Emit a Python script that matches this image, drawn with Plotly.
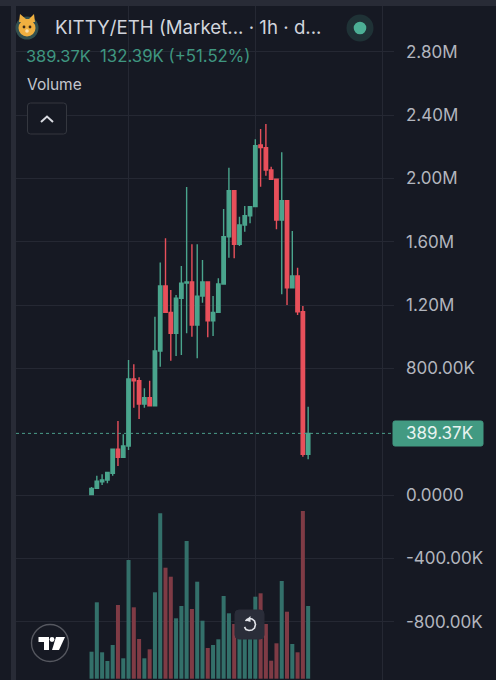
import plotly.graph_objects as go

W, H = 496, 680
L, R = 16, 394

index = list(range(42))
opens = [3,42,84,95,137,289,238,310,733,722,575,615,564,910,1321,1154,1022,1243,1340,1346,1074,1257,1346,1101,1154,1333,1632,1923,1584,1706,1765,1822,2212,2195,2054,1995,1738,1860,1310,1384,1158,257]
highs = [50,122,131,145,289,468,384,853,826,744,674,722,1127,1470,1622,1295,1264,1447,1946,1584,1584,1485,1346,1257,1369,1807,2068,1923,1759,1826,1822,2248,2313,2344,2075,1995,2166,1860,1668,1436,1194,558]
lows = [0,42,63,74,122,183,238,284,552,480,551,564,564,811,1154,849,878,885,1022,1000,864,1215,997,1005,1154,1333,1500,1496,1573,1664,1717,1822,1948,2018,1995,1679,1268,1201,1310,1137,242,226]
closes = [42,88,95,143,289,238,310,733,722,575,615,564,910,1321,1154,1022,1243,1338,1346,1074,1257,1346,1101,1154,1333,1632,1923,1584,1706,1765,1822,2207,2195,2054,1995,1738,1860,1310,1384,1158,257,389.37]
volumes = [27,76.4,26.4,17.7,33.7,73.7,20.4,118.7,71.4,39.7,20.4,29.4,86.4,165.4,111,102,60.4,72.7,137.7,69.7,97,58,30.7,33.7,39.4,82.7,65.4,54.7,54,50,44,82,85.4,54.7,18,35.4,97.7,67,34.7,26.4,167.7,72.7]

tick_vals = [2800,2400,2000,1600,1200,800,0,-400,-800]
tick_text = ["2.80M","2.40M","2.00M","1.60M","1.20M","800.00K","0.0000","-400.00K","-800.00K"]
day_ticks = [7,31,55]
last_price = 389.37
last_label = "389.37K"

UP, DOWN = "#4aa58d", "#e8505b"
VUP, VDOWN = "#33706a", "#7f3b45"
BG, BAND, GRID = "#161923", "#282b36", "#252833"

def px(x): return (x - L) / (R - L)
def py(y): return 1 - y / H

def rect(x0, y0, x1, y1, fill, line=None, r=0, lw=1):
    if r:
        path = (f"M{px(x0+r)},{py(y0)} L{px(x1-r)},{py(y0)} Q{px(x1)},{py(y0)} {px(x1)},{py(y0+r)} "
                f"L{px(x1)},{py(y1-r)} Q{px(x1)},{py(y1)} {px(x1-r)},{py(y1)} L{px(x0+r)},{py(y1)} "
                f"Q{px(x0)},{py(y1)} {px(x0)},{py(y1-r)} L{px(x0)},{py(y0+r)} Q{px(x0)},{py(y0)} {px(x0+r)},{py(y0)} Z")
        return dict(type="path", xref="paper", yref="paper", path=path, fillcolor=fill,
                    line=dict(color=line or fill, width=lw), layer="above")
    return dict(type="rect", xref="paper", yref="paper", x0=px(x0), x1=px(x1), y0=py(y0), y1=py(y1),
                fillcolor=fill, line=dict(color=line or fill, width=lw if line else 0), layer="above")

def poly(points, fill="rgba(0,0,0,0)", line=None, lw=1, close=True):
    d = "M" + " L".join(f"{px(a)},{py(b)}" for a, b in points) + (" Z" if close else "")
    return dict(type="path", xref="paper", yref="paper", path=d, fillcolor=fill,
                line=dict(color=line or "rgba(0,0,0,0)", width=lw if line else 0), layer="above")

def circle(cx, cy, r, fill, line=None, lw=1):
    return dict(type="circle", xref="paper", yref="paper", x0=px(cx-r), x1=px(cx+r), y0=py(cy+r), y1=py(cy-r),
                fillcolor=fill, line=dict(color=line or fill, width=lw if line else 0), layer="above")

shapes = [
    rect(0, 0, W, 6, BAND),
    rect(11, 6, 16, H, BAND),
    dict(type="line", xref="paper", yref="y", x0=px(L), x1=px(393), y0=last_price, y1=last_price,
         line=dict(color="#4a9d89", width=1, dash="dot"), layer="above"),
    rect(393, 421, 483, 446, "#429a82", r=2),
    # logo
    circle(27, 28, 11.5, "#33504f"),
    poly([(19,22),(20,14),(26,19),(29,19),(34,14),(35,22)], fill="#f0b040"),
    circle(27, 28, 8.5, "#f0b040"),
    circle(24, 27, 1.4, "#3a2a18"), circle(30, 27, 1.4, "#3a2a18"),
    circle(27, 31, 1.8, "#f7e0b0"),
    # live dot
    circle(360, 28, 13.5, "#1f3236"),
    circle(360, 28, 6.3, "#4caf95"),
    # collapse button
    rect(27.5, 103, 66.5, 134, BG, line="#34373f", r=3),
    poly([(41,122),(47,116.5),(53,122)], line="#d8dae0", lw=2, close=False),
    # replay button
    rect(235, 610, 264, 639, "#2a2d39", r=4),
    poly([(245.5,621),(247,619.5),(249.5,618.5),(252,619),(254.5,621),(255.5,624.5),(254.5,628),(252,630),(249,630.5),(246,629.5),(244.5,627)], line="#e2e4ea", lw=1.6, close=False),
    poly([(250.5,616),(250.5,622),(245.5,620.5)], fill="#e2e4ea"),
    # TradingView mark
    circle(50, 643, 18.5, BG, line="#55575f", lw=1.4),
    poly([(38.5,637),(49,637),(49,650),(44,650),(44,642),(38.5,642)], fill="#ffffff"),
    circle(52, 639.5, 2.4, "#ffffff"),
    poly([(56,637),(65,637),(59,650),(52,650)], fill="#ffffff"),
]

def note(x, y, text, size, color, **kw):
    return dict(xref="paper", yref="paper", x=px(x), y=py(y), text=text, showarrow=False, xanchor="left",
                yanchor="middle", font=dict(family="Inter", size=size, color=color), **kw)

annotations = [
    note(53, 28, "KITTY/ETH (Market... · 1h · d...", 18.7, "#d1d4dc"),
    note(24, 56, "389.37K", 16.4, "#3f9680"),
    note(98, 56, "132.39K (+51.52%)", 16.8, "#3f9680"),
    note(25, 84, "Volume", 15.5, "#c3c6ce"),
    note(404, 433.5, last_label, 17, "#e8f3f0"),
]

fig = go.Figure()
fig.add_trace(go.Bar(x=index, y=volumes, yaxis="y2", width=0.76,
                     marker=dict(color=[VUP if c >= o else VDOWN for o, c in zip(opens, closes)], line_width=0),
                     hoverinfo="skip"))
fig.add_trace(go.Candlestick(x=index, open=opens, high=highs, low=lows, close=closes, whiskerwidth=0,
                             increasing=dict(line=dict(color=UP, width=1.4), fillcolor=UP),
                             decreasing=dict(line=dict(color=DOWN, width=1.4), fillcolor=DOWN)))

fig.update_layout(
    width=W, height=H, margin=dict(l=L, r=W-R, t=0, b=0, pad=0),
    paper_bgcolor=BG, plot_bgcolor=BG, showlegend=False, boxgap=0.08,
    xaxis=dict(range=[-14.3, 57.25], tickvals=day_ticks, showticklabels=False, showgrid=True, gridcolor=GRID,
               gridwidth=1, zeroline=False, rangeslider=dict(visible=False), ticks="", showline=False),
    yaxis=dict(range=[-1169, 3128], side="right", tickvals=tick_vals, ticktext=tick_text, showgrid=True,
               gridcolor=GRID, gridwidth=1, zeroline=False, ticks="", showline=False, ticklabelstandoff=11,
               tickfont=dict(family="Inter", size=17, color="#b2b5be")),
    yaxis2=dict(range=[-1.3, 678.7], overlaying="y", visible=False, showgrid=False, zeroline=False),
    shapes=shapes, annotations=annotations,
)
fig.write_html("out.html", config=dict(displayModeBar=False),
               post_script="document.body.style.margin='0';document.body.style.background='#161923';")
